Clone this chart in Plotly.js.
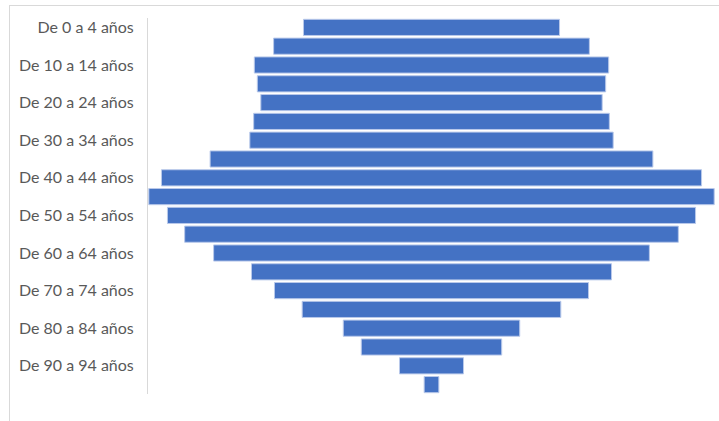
<!DOCTYPE html>
<html>
<head>
<meta charset="utf-8">
<script src="https://cdn.plot.ly/plotly-3.0.1.min.js"></script>
<style>
  html, body { margin: 0; padding: 0; background: #ffffff; }
  #wrap { position: relative; width: 719px; height: 421px; overflow: hidden; }
  #frame { position: absolute; left: 9px; top: 5px; width: 760px; height: 460px;
           border: 1px solid #d9d9d9; box-sizing: border-box; pointer-events: none; }
  #chart { position: absolute; left: 0; top: 0; width: 719px; height: 421px; }
</style>
</head>
<body>
<div id="wrap">
  <div id="chart"></div>
  <div id="frame"></div>
</div>
<script>
// Age groups, youngest first
const grupos = [
  "De 0 a 4 años", "De 5 a 9 años", "De 10 a 14 años", "De 15 a 19 años",
  "De 20 a 24 años", "De 25 a 29 años", "De 30 a 34 años", "De 35 a 39 años",
  "De 40 a 44 años", "De 45 a 49 años", "De 50 a 54 años", "De 55 a 59 años",
  "De 60 a 64 años", "De 65 a 69 años", "De 70 a 74 años", "De 75 a 79 años",
  "De 80 a 84 años", "De 85 a 89 años", "De 90 a 94 años", "De 95 a 99 años"
];

// Population per age group
const poblacion = [
  2560, 3157, 3543, 3483, 3413, 3556, 3633, 4427, 5400, 5653,
  5280, 4936, 4357, 3600, 3140, 2586, 1764, 1404, 640, 147
];

// Only every other group is labelled on the axis
const etiquetas = grupos.filter((g, i) => i % 2 === 0);

const maximo = Math.max(...poblacion);

// Each bar is centred on zero: it starts half its length to the left
const trace = {
  type: "bar",
  orientation: "h",
  y: grupos,
  x: poblacion,
  base: poblacion.map(v => -v / 2),
  marker: { color: "#4472C4", line: { color: "#b9c9ea", width: 1 } },
  hoverinfo: "y+x"
};

const layout = {
  width: 719,
  height: 421,
  margin: { l: 148, r: 4, t: 18, b: 27 },
  paper_bgcolor: "#ffffff",
  plot_bgcolor: "#ffffff",
  showlegend: false,
  bargap: 0.14,
  font: { family: "Lato, sans-serif", size: 16, color: "#595959" },
  xaxis: {
    range: [-maximo / 2 - 8, maximo / 2 + 8],
    showgrid: false, zeroline: false, showticklabels: false, showline: false, ticks: ""
  },
  yaxis: {
    type: "category",
    autorange: "reversed",
    tickmode: "array",
    tickvals: etiquetas,
    ticktext: etiquetas,
    showgrid: false, zeroline: false,
    showline: true, linecolor: "#d9d9d9", linewidth: 1,
    ticks: "", ticklabelstandoff: 10,
    tickfont: { family: "Lato, sans-serif", size: 16, color: "#595959" }
  }
};

Plotly.newPlot("chart", [trace], layout, { displayModeBar: false, staticPlot: true });
</script>
</body>
</html>
